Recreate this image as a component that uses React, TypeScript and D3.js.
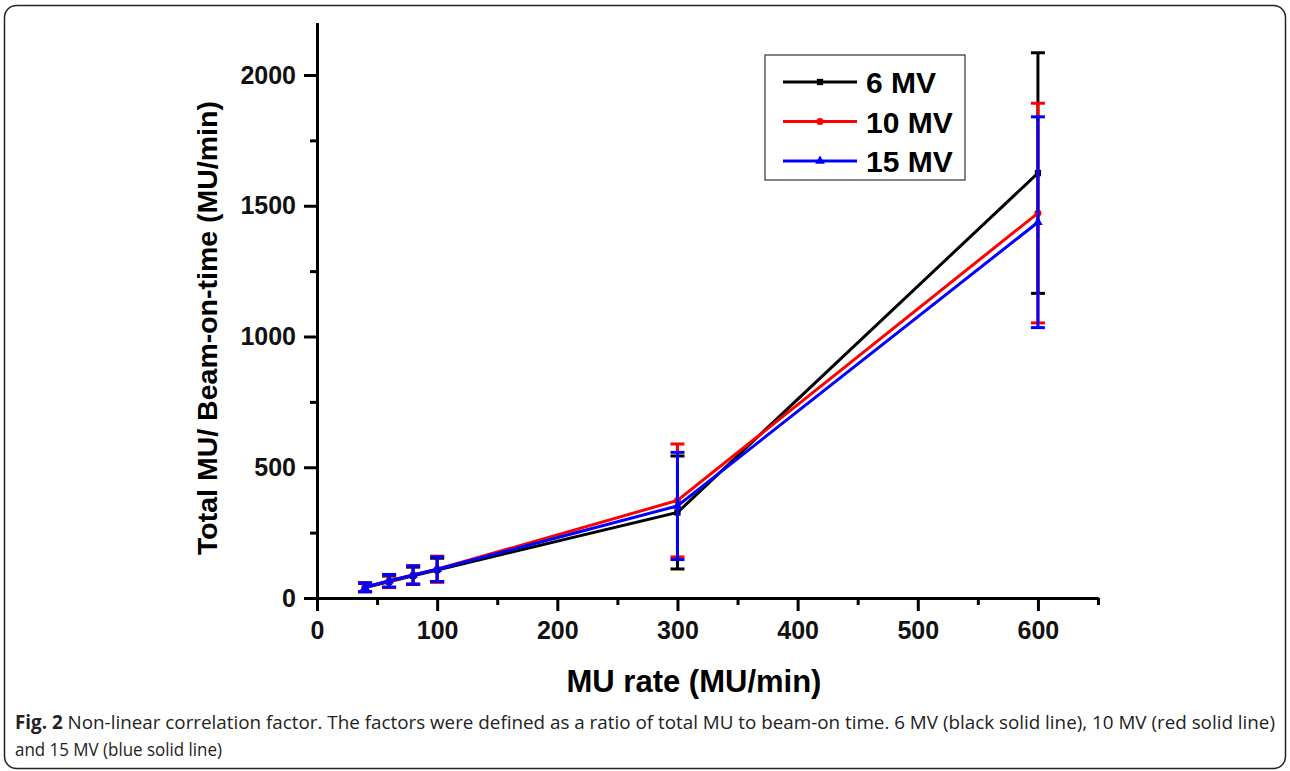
import React, { useEffect, useRef } from 'react';
import * as d3 from 'd3';

const rates = [40, 60, 80, 100, 300, 600];
const mv6 = [40, 62, 85, 107, 327, 1625];
const mv6Err = [16, 22, 33, 45, 216, 460];
const mv10 = [42, 64, 88, 110, 373, 1472];
const mv10Err = [17, 24, 35, 50, 216, 420];
const mv15 = [41, 66, 88, 110, 352, 1437];
const mv15Err = [17, 24, 35, 47, 205, 403];

const xTicks = [0, 100, 200, 300, 400, 500, 600];
const xMinor = [50, 150, 250, 350, 450, 550, 650];
const yTicks = [0, 500, 1000, 1500, 2000];
const yMinor = [250, 750, 1250, 1750];

const series = [
  { name: '6 MV', values: mv6, errors: mv6Err, color: '#000000', symbol: d3.symbolSquare },
  { name: '10 MV', values: mv10, errors: mv10Err, color: '#ff0000', symbol: d3.symbolCircle },
  { name: '15 MV', values: mv15, errors: mv15Err, color: '#0000ff', symbol: d3.symbolTriangle },
];

const App = () => {
  const svgRef = useRef(null);

  useEffect(() => {
    const svg = d3.select(svgRef.current);
    svg.selectAll('*').remove();

    const font = 'Arial, "Liberation Sans", sans-serif';

    // frame of the figure
    svg.append('rect')
      .attr('x', 4.5).attr('y', 5.5)
      .attr('width', 1281).attr('height', 763)
      .attr('rx', 12)
      .attr('fill', '#fff')
      .attr('stroke', '#222')
      .attr('stroke-width', 1.5);

    const x = d3.scaleLinear().domain([0, 650]).range([317, 1098]);
    const y = d3.scaleLinear().domain([0, 2200]).range([598, 22.7]);

    const g = svg.append('g');

    // axes
    const xAxis = g.append('g').attr('transform', 'translate(0,598)')
      .call(d3.axisBottom(x).tickValues(xTicks).tickSize(13).tickSizeOuter(0).tickPadding(10).tickFormat(d3.format('d')));
    const xMinorAxis = g.append('g').attr('transform', 'translate(0,598)')
      .call(d3.axisBottom(x).tickValues(xMinor).tickSize(7).tickFormat(() => '').tickSizeOuter(0));
    const yAxis = g.append('g').attr('transform', 'translate(317,0)')
      .call(d3.axisLeft(y).tickValues(yTicks).tickSize(13).tickSizeOuter(0).tickPadding(8).tickFormat(d3.format('d')));
    const yMinorAxis = g.append('g').attr('transform', 'translate(317,0)')
      .call(d3.axisLeft(y).tickValues(yMinor).tickSize(7).tickFormat(() => '').tickSizeOuter(0));

    [xAxis, xMinorAxis, yAxis, yMinorAxis].forEach(a => {
      a.selectAll('path.domain').attr('stroke', '#000').attr('stroke-width', 3);
      a.selectAll('.tick line').attr('stroke', '#000').attr('stroke-width', 3);
    });
    xAxis.selectAll('text')
      .style('font-family', font).style('font-size', '25px').style('font-weight', 'bold').attr('fill', '#111');
    yAxis.selectAll('text')
      .style('font-family', font).style('font-size', '25px').style('font-weight', 'bold').attr('fill', '#111');

    // axis titles
    g.append('text')
      .attr('x', 694).attr('y', 692)
      .attr('text-anchor', 'middle')
      .style('font-family', font).style('font-size', '31px').style('font-weight', 'bold')
      .text('MU rate (MU/min)');
    g.append('text')
      .attr('transform', 'translate(217,328) rotate(-90)')
      .attr('text-anchor', 'middle')
      .style('font-family', font).style('font-size', '28.5px').style('font-weight', 'bold')
      .text('Total MU/ Beam-on-time (MU/min)');

    const lineGen = d3.line<number>()
      .x((d, i) => x(rates[i]))
      .y(d => y(d));

    series.forEach(s => {
      const sg = g.append('g');
      // error bars
      s.values.forEach((v, i) => {
        const cx = x(rates[i]);
        const top = y(v + s.errors[i]);
        const bot = y(v - s.errors[i]);
        sg.append('line').attr('x1', cx).attr('x2', cx).attr('y1', top).attr('y2', bot)
          .attr('stroke', s.color).attr('stroke-width', 3);
        [top, bot].forEach(cy => {
          sg.append('line').attr('x1', cx - 7).attr('x2', cx + 7).attr('y1', cy).attr('y2', cy)
            .attr('stroke', s.color).attr('stroke-width', 3);
        });
      });
      sg.append('path')
        .datum(s.values)
        .attr('fill', 'none')
        .attr('stroke', s.color)
        .attr('stroke-width', 3)
        .attr('d', lineGen);
      sg.selectAll('path.marker')
        .data(s.values)
        .enter()
        .append('path')
        .attr('class', 'marker')
        .attr('transform', (d, i) => `translate(${x(rates[i])},${y(d)})`)
        .attr('d', d3.symbol(s.symbol, 40)())
        .attr('fill', s.color);
    });

    // legend
    const lg = g.append('g').attr('transform', 'translate(765,55)');
    lg.append('rect').attr('width', 200).attr('height', 125)
      .attr('fill', '#fff').attr('stroke', '#333').attr('stroke-width', 1.2);
    series.forEach((s, i) => {
      const ly = 27 + i * 39.5;
      lg.append('line').attr('x1', 18).attr('x2', 92).attr('y1', ly).attr('y2', ly)
        .attr('stroke', s.color).attr('stroke-width', 3);
      lg.append('path').attr('transform', `translate(55,${ly})`)
        .attr('d', d3.symbol(s.symbol, 40)()).attr('fill', s.color);
      lg.append('text').attr('x', 101).attr('y', ly + 11)
        .style('font-family', font).style('font-size', '30px').style('font-weight', 'bold')
        .text(s.name);
    });

    // caption
    const cap = svg.append('g').style('font-family', '"Open Sans", sans-serif').style('font-size', '19px').attr('fill', '#222');
    const line1 = cap.append('text').attr('x', 15).attr('y', 729)
      .attr('textLength', 1260).attr('lengthAdjust', 'spacingAndGlyphs');
    line1.append('tspan').style('font-weight', 'bold').text('Fig. 2');
    line1.append('tspan').text(' Non-linear correlation factor. The factors were defined as a ratio of total MU to beam-on time. 6 MV (black solid line), 10 MV (red solid line)');
    cap.append('text').attr('x', 15).attr('y', 756)
      .attr('textLength', 207).attr('lengthAdjust', 'spacingAndGlyphs')
      .text('and 15 MV (blue solid line)');
  }, []);

  return (
    <svg ref={svgRef} width={1290} height={771}
      style={{ position: 'absolute', left: 0, top: 0, display: 'block' }} />
  );
};

export default App;
